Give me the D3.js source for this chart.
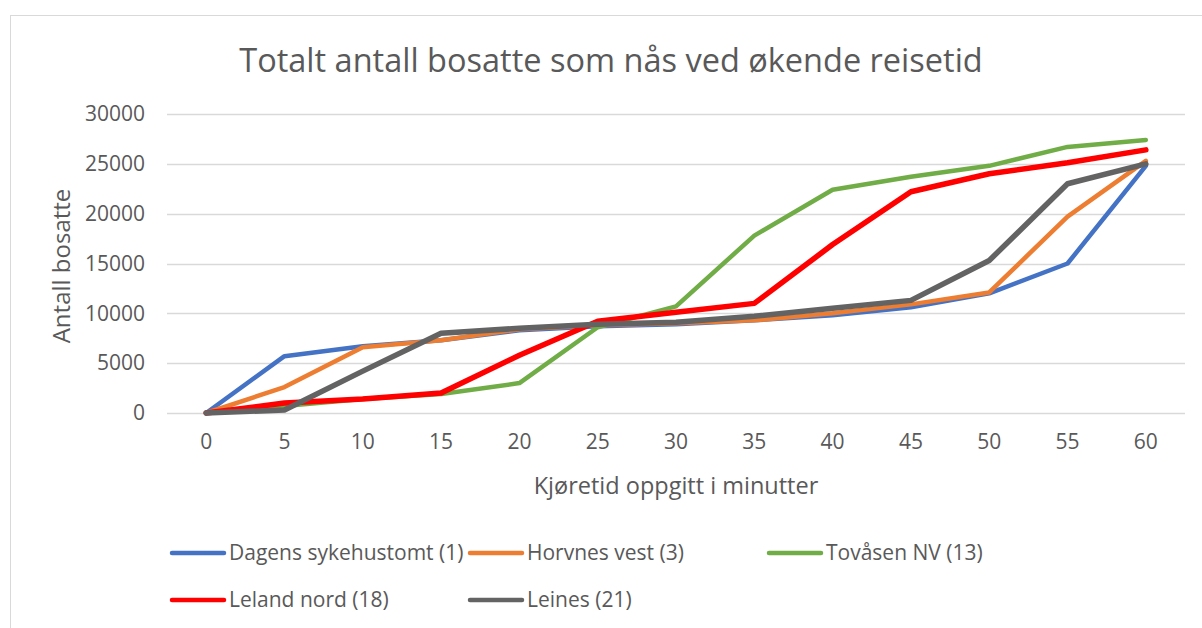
<!DOCTYPE html>
<html>
<head>
<meta charset="utf-8">
<script src="https://cdn.jsdelivr.net/npm/d3@7"></script>
<style>
  body { margin: 0; background: #fff; }
  text { font-family: "Open Sans", "Noto Sans", sans-serif; fill: #595959; }
</style>
</head>
<body>
<div id="vis"></div>
<script>
// minutes on the x axis
const minutes = [0, 5, 10, 15, 20, 25, 30, 35, 40, 45, 50, 55, 60];
const yTicks = [0, 5000, 10000, 15000, 20000, 25000, 30000];

const seriesNames = ["Dagens sykehustomt (1)", "Horvnes vest (3)", "Tovåsen NV (13)", "Leland nord (18)", "Leines (21)"];
const dagens  = [0, 5700, 6700, 7300, 8300, 8700, 8900, 9300, 9800, 10600, 12000, 15000, 24800];
const horvnes = [0, 2600, 6600, 7300, 8400, 8800, 9000, 9300, 10000, 10900, 12100, 19700, 25300];
const tovasen = [0, 700, 1400, 1900, 3000, 8600, 10700, 17800, 22400, 23700, 24800, 26700, 27400];
const leland  = [0, 1000, 1400, 2000, 5800, 9200, 10100, 11000, 16900, 22200, 24000, 25100, 26400];
const leines  = [0, 300, 4200, 8000, 8500, 8900, 9100, 9700, 10500, 11300, 15300, 23000, 25000];

const colors = ["#4472C4", "#ED7D31", "#70AD47", "#FF0000", "#636363"];
const widths = [4.5, 4.5, 4.5, 5.5, 5.5];
const allSeries = [dagens, horvnes, tovasen, leland, leines];

const W = 1202, H = 628;
const margin = { top: 114, right: 17, bottom: 215, left: 167 };

const svg = d3.select("#vis").append("svg")
    .attr("width", W)
    .attr("height", H);

// chart border
svg.append("rect")
    .attr("x", 10.5).attr("y", 15.5)
    .attr("width", W + 10).attr("height", H + 10)
    .attr("fill", "none")
    .attr("stroke", "#d9d9d9");

const x = d3.scaleBand()
    .domain(minutes)
    .range([margin.left, W - margin.right]);

const y = d3.scaleLinear()
    .domain([0, 30000])
    .range([H - margin.bottom, margin.top]);

// gridlines
svg.append("g")
    .selectAll("line")
    .data(yTicks)
    .enter()
    .append("line")
    .attr("x1", margin.left)
    .attr("x2", W - margin.right)
    .attr("y1", d => Math.round(y(d)) + 0.5)
    .attr("y2", d => Math.round(y(d)) + 0.5)
    .attr("stroke", "#d9d9d9")
    .attr("stroke-width", 1.3);

// y axis labels
const yAxis = svg.append("g")
    .attr("transform", "translate(" + (margin.left - 22) + ",0)")
    .call(d3.axisLeft(y).tickValues(yTicks).tickSize(0).tickPadding(0).tickFormat(d3.format("d")));
yAxis.select(".domain").remove();
yAxis.selectAll("text").style("font-size", "21px").attr("fill", "#595959");

// x axis labels
const xAxis = svg.append("g")
    .attr("transform", "translate(0," + (H - margin.bottom) + ")")
    .call(d3.axisBottom(x).tickSize(0).tickPadding(21));
xAxis.select(".domain").remove();
xAxis.selectAll("text").style("font-size", "21px").attr("fill", "#595959");

// lines
const line = d3.line()
    .x((d, i) => x(minutes[i]) + x.bandwidth() / 2)
    .y(d => y(d));

svg.append("g")
    .selectAll("path")
    .data(allSeries)
    .enter()
    .append("path")
    .attr("d", d => line(d))
    .attr("fill", "none")
    .attr("stroke", (d, i) => colors[i])
    .attr("stroke-width", (d, i) => widths[i])
    .attr("stroke-linejoin", "round")
    .attr("stroke-linecap", "round");

// title
svg.append("text")
    .attr("x", 611).attr("y", 72)
    .attr("text-anchor", "middle")
    .style("font-size", "32.5px")
    .text("Totalt antall bosatte som nås ved økende reisetid");

// axis titles
svg.append("text")
    .attr("x", 676).attr("y", 494)
    .attr("text-anchor", "middle")
    .style("font-size", "23.5px")
    .text("Kjøretid oppgitt i minutter");

svg.append("text")
    .attr("transform", "translate(70,266) rotate(-90)")
    .attr("text-anchor", "middle")
    .style("font-size", "24px")
    .text("Antall bosatte");

// legend
const legendPos = [[170, 553], [468, 553], [767, 553], [170, 600], [468, 600]];
const legend = svg.append("g")
    .selectAll("g")
    .data(seriesNames)
    .enter()
    .append("g")
    .attr("transform", (d, i) => "translate(" + legendPos[i][0] + "," + legendPos[i][1] + ")");

legend.append("line")
    .attr("x1", 2).attr("x2", 54)
    .attr("stroke", (d, i) => colors[i])
    .attr("stroke-width", 4.5)
    .attr("stroke-linecap", "round");

legend.append("text")
    .attr("x", 59).attr("dy", "0.35em")
    .style("font-size", "21px")
    .text(d => d);
</script>
</body>
</html>
